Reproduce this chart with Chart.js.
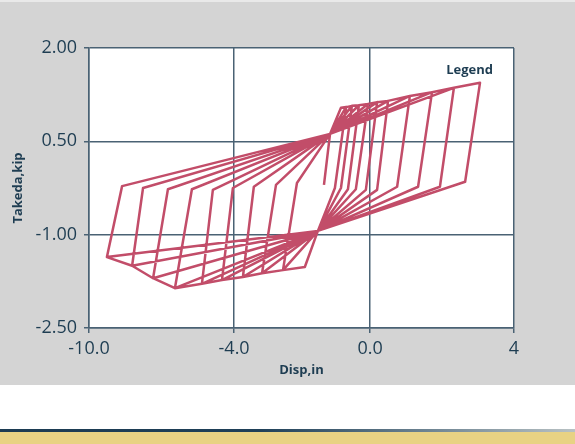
<!DOCTYPE html>
<html>
<head>
<meta charset="utf-8">
<script src="https://cdn.jsdelivr.net/npm/chart.js@4.4.0/dist/chart.umd.min.js"></script>
<style>
  html, body { margin: 0; padding: 0; background: #fff; }
  body { width: 575px; height: 444px; position: relative; overflow: hidden; }
  #panel { position: absolute; left: 0; top: 0; width: 575px; height: 385px; background: #d4d4d4; }
  #topline { position: absolute; left: 0; top: 0; width: 575px; height: 2px; background: #e9e9e9; }
  #chart { position: absolute; left: 0; top: 0; }
  #navy { position: absolute; left: 0; top: 429px; width: 575px; height: 3px;
          background: linear-gradient(to right, #1c3b52 0%, #1f4058 45%, #6f8593 75%, #b9c2c4 100%); }
  #gold { position: absolute; left: 0; top: 432px; width: 575px; height: 12px; background: #e8d283; }
</style>
</head>
<body>
<div id="panel"></div>
<div id="topline"></div>
<canvas id="chart" width="575" height="385"></canvas>
<div id="navy"></div>
<div id="gold"></div>
<script>
// axis ticks
const xTickValues = [-10, -5.22, -0.74, 4];
const xTickLabels = ['-10.0', '-4.0', '0.0', '4'];
const yTickValues = [-2.5, -1.0, 0.5, 2.0];
const yTickLabels = ['-2.50', '-1.00', '0.50', '2.00'];

// primary curve points (disp, force)
const originXY = [-2.26, -0.20];
const crackPosXY = [-2.06, 0.62];
const yieldPosXY = [-1.70, 1.04];
const crackNegXY = [-2.46, -0.94];
const yieldNegXY = [-2.89, -1.52];

// positive peaks and the zero-force points reached when unloading from them
const posPeakDisp  = [-1.53, -1.34, -1.11, -0.81, -0.51, -0.15, 0.57, 1.30, 2.02, 2.88];
const posPeakForce = [1.05, 1.07, 1.08, 1.10, 1.13, 1.15, 1.23, 1.29, 1.36, 1.44];
const posZeroDisp  = [-1.90, -1.70, -1.47, -1.21, -0.88, -0.51, 0.15, 0.84, 1.56, 2.39];
const posZeroForce = [-0.25, -0.25, -0.27, -0.27, -0.28, -0.28, -0.23, -0.23, -0.23, -0.15];

// negative peaks and their unloading points
const negPeakDisp  = [-3.61, -4.30, -4.93, -5.62, -6.28, -7.17, -7.89, -8.58, -9.41];
const negPeakForce = [-1.57, -1.62, -1.68, -1.73, -1.79, -1.86, -1.70, -1.50, -1.36];
const negZeroDisp  = [-3.15, -3.84, -4.57, -5.26, -5.92, -6.61, -7.40, -8.22, -8.91];
const negZeroForce = [-0.17, -0.20, -0.23, -0.25, -0.28, -0.27, -0.27, -0.25, -0.22];

const pt = (x, y) => ({ x, y });
const P  = i => pt(posPeakDisp[i], posPeakForce[i]);
const RP = i => pt(posZeroDisp[i], posZeroForce[i]);
const N  = i => pt(negPeakDisp[i], negPeakForce[i]);
const RN = i => pt(negZeroDisp[i], negZeroForce[i]);
const CP = pt(...crackPosXY);
const CN = pt(...crackNegXY);

// walk the hysteresis in load order
const path = [pt(...originXY), CP, pt(...yieldPosXY), P(0), RP(0), CN, pt(...yieldNegXY), N(0), RN(0)];
for (let k = 1; k < negPeakDisp.length; k++) {
  path.push(CP, P(k - 1), P(k), RP(k), CN, N(k - 1), N(k), RN(k));
}
const last = posPeakDisp.length - 1;
path.push(CP, P(last - 1), P(last), RP(last), CN, N(negPeakDisp.length - 1));

const axisColor = '#4a6274';
const textColor = '#1e3d52';
const fontFamily = '"Open Sans", "Noto Sans", sans-serif';

const plotBg = {
  id: 'plotBg',
  beforeDraw(chart) {
    const { ctx, chartArea: a } = chart;
    ctx.save();
    ctx.fillStyle = '#ffffff';
    ctx.fillRect(a.left, a.top, a.right - a.left, a.bottom - a.top);
    ctx.restore();
  }
};

const legendText = {
  id: 'legendText',
  afterDraw(chart) {
    const ctx = chart.ctx;
    ctx.save();
    ctx.font = 'bold 13px ' + fontFamily;
    ctx.fillStyle = textColor;
    ctx.textAlign = 'right';
    ctx.textBaseline = 'middle';
    ctx.fillText('Legend', 493, 70);
    ctx.restore();
  }
};

new Chart(document.getElementById('chart'), {
  type: 'scatter',
  data: {
    datasets: [{
      label: 'Legend',
      data: path,
      showLine: true,
      borderColor: '#c24d69',
      borderWidth: 2.5,
      borderJoinStyle: 'round',
      pointRadius: 0,
      tension: 0
    }]
  },
  options: {
    responsive: false,
    animation: false,
    layout: { padding: { left: 0, top: 48, right: 61, bottom: 0 } },
    plugins: {
      legend: { display: false },
      tooltip: { enabled: false }
    },
    scales: {
      x: {
        type: 'linear',
        min: -10,
        max: 4,
        afterBuildTicks: s => { s.ticks = xTickValues.map(v => ({ value: v })); },
        afterFit: s => { s.height = 57; },
        ticks: {
          callback: (v, i) => xTickLabels[i],
          color: textColor,
          font: { size: 18, family: fontFamily },
          padding: 5,
          maxRotation: 0
        },
        grid: { color: axisColor, lineWidth: 1.5, tickLength: 5 },
        border: { color: axisColor, width: 1.5 },
        title: {
          display: true,
          text: 'Disp,in',
          color: textColor,
          font: { size: 13, weight: 'bold', family: fontFamily },
          padding: { top: 0, bottom: 7 }
        }
      },
      y: {
        type: 'linear',
        min: -2.5,
        max: 2,
        afterBuildTicks: s => { s.ticks = yTickValues.map(v => ({ value: v })); },
        afterFit: s => { s.width = 89; },
        ticks: {
          callback: (v, i) => yTickLabels[i],
          color: textColor,
          font: { size: 18, family: fontFamily },
          padding: 7
        },
        grid: { color: axisColor, lineWidth: 1.5, tickLength: 5 },
        border: { color: axisColor, width: 1.5 },
        title: {
          display: true,
          text: 'Takeda,kip',
          color: textColor,
          font: { size: 13, weight: 'bold', family: fontFamily },
          padding: { top: 10, bottom: 0 }
        }
      }
    }
  },
  plugins: [plotBg, legendText]
});
</script>
</body>
</html>
